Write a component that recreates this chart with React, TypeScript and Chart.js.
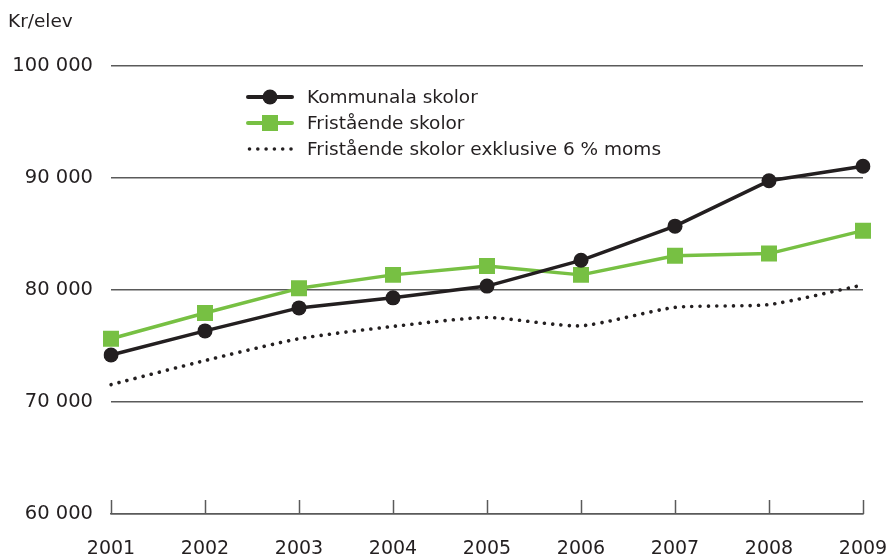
import React, { useEffect, useRef } from "react";
import { Chart, registerables } from "chart.js";

Chart.register(...registerables);

const years = ["2001", "2002", "2003", "2004", "2005", "2006", "2007", "2008", "2009"];
const kommunala = [74200, 76350, 78400, 79300, 80350, 82650, 85700, 89750, 91050];
const fristaende = [75650, 77950, 80150, 81350, 82150, 81350, 83050, 83250, 85300];
const fristaendeExMoms = [71550, 73700, 75650, 76750, 77550, 76800, 78450, 78700, 80450];
const yTicks = [60000, 70000, 80000, 90000, 100000];
const seriesNames = ["Kommunala skolor", "Fristående skolor", "Fristående skolor exklusive 6 % moms"];
const yUnit = "Kr/elev";

const DARK = "#231f20";
const GREEN = "#77c043";
const GRID = "#5a5a5a";
const FONT = "'DejaVu Sans', sans-serif";

const fmt = (v: number) => String(v).replace(/\B(?=(\d{3})+(?!\d))/g, " ");

const decorPlugin = {
  id: "decor",
  beforeDatasetsDraw(chart: any) {
    const ctx = chart.ctx;
    const xs = chart.scales.x;
    const bottom = chart.chartArea.bottom;
    ctx.save();
    ctx.strokeStyle = GRID;
    ctx.lineWidth = 1.5;
    xs.ticks.forEach((_t: any, i: number) => {
      const x = Math.round(xs.getPixelForTick(i)) + 0.5;
      ctx.beginPath();
      ctx.moveTo(x, bottom);
      ctx.lineTo(x, bottom - 14);
      ctx.stroke();
    });
    ctx.restore();
  },
  afterDraw(chart: any) {
    const ctx = chart.ctx;
    ctx.save();
    ctx.fillStyle = DARK;
    ctx.font = `18.5px ${FONT}`;
    ctx.textBaseline = "alphabetic";
    ctx.textAlign = "left";
    ctx.fillText(yUnit, 8, 27);

    // legend
    const rows = [97, 123, 149];
    const x0 = 248, x1 = 292, xm = 270, tx = 307;
    ctx.font = `18.5px ${FONT}`;
    ctx.textBaseline = "middle";
    rows.forEach((y, i) => {
      ctx.save();
      if (i === 0) {
        ctx.strokeStyle = DARK; ctx.lineWidth = 4; ctx.lineCap = "round";
        ctx.beginPath(); ctx.moveTo(x0, y); ctx.lineTo(x1, y); ctx.stroke();
        ctx.fillStyle = DARK;
        ctx.beginPath(); ctx.arc(xm, y, 7.5, 0, Math.PI * 2); ctx.fill();
      } else if (i === 1) {
        ctx.strokeStyle = GREEN; ctx.lineWidth = 4; ctx.lineCap = "round";
        ctx.beginPath(); ctx.moveTo(x0, y); ctx.lineTo(x1, y); ctx.stroke();
        ctx.fillStyle = GREEN;
        ctx.fillRect(xm - 8, y - 8, 16, 16);
      } else {
        ctx.fillStyle = DARK;
        for (let k = 0; k < 6; k++) {
          ctx.beginPath(); ctx.arc(x0 + 1.5 + k * 8.3, y, 1.8, 0, Math.PI * 2); ctx.fill();
        }
      }
      ctx.restore();
      ctx.fillStyle = DARK;
      ctx.fillText(seriesNames[i], tx, y + 1);
    });
    ctx.restore();
  },
};

export default function App() {
  const ref = useRef<HTMLCanvasElement | null>(null);
  useEffect(() => {
    if (!ref.current) return;
    const chart = new Chart(ref.current, {
      type: "line",
      data: {
        labels: years,
        datasets: [
          {
            label: seriesNames[2],
            data: fristaendeExMoms,
            borderColor: DARK,
            borderWidth: 3.6,
            borderDash: [0.01, 8.3],
            borderCapStyle: "round",
            pointRadius: 0,
            tension: 0.2,
            fill: false,
            order: 3,
          },
          {
            label: seriesNames[1],
            data: fristaende,
            borderColor: GREEN,
            backgroundColor: GREEN,
            borderWidth: 3.5,
            pointStyle: "rect",
            pointRadius: 11.3,
            pointBorderWidth: 0,
            tension: 0,
            fill: false,
            order: 2,
          },
          {
            label: seriesNames[0],
            data: kommunala,
            borderColor: DARK,
            backgroundColor: DARK,
            borderWidth: 3.5,
            pointStyle: "circle",
            pointRadius: 7.5,
            pointBorderWidth: 0,
            tension: 0,
            fill: false,
            order: 1,
          },
        ],
      },
      options: {
        responsive: false,
        animation: false,
        layout: { padding: { top: 66, right: 33, left: 0, bottom: 0 } },
        plugins: { legend: { display: false }, tooltip: { enabled: false } },
        elements: { line: { borderJoinStyle: "round" } },
        scales: {
          x: {
            type: "category",
            offset: false,
            grid: { display: false, drawTicks: false },
            border: { display: true, color: GRID, width: 1.5 },
            ticks: {
              color: DARK,
              font: { family: FONT, size: 19 },
              padding: 24,
              maxRotation: 0,
              autoSkip: false,
            },
            afterFit: (s: any) => { s.height = 43; s.paddingLeft = 0; s.paddingRight = 0; },
          },
          y: {
            min: yTicks[0],
            max: yTicks[yTicks.length - 1],
            afterBuildTicks: (s: any) => { s.ticks = yTicks.map((v) => ({ value: v })); },
            grid: { color: GRID, lineWidth: 1.5, drawTicks: false },
            border: { display: false },
            ticks: {
              color: DARK,
              font: { family: FONT, size: 19.5 },
              padding: 18,
              callback: (v: any) => fmt(Number(v)),
            },
            afterFit: (s: any) => { s.width = 111; s.paddingTop = 0; s.paddingBottom = 0; },
          },
        },
      },
      plugins: [decorPlugin],
    } as any);
    return () => chart.destroy();
  }, []);
  return (
    <div style={{ position: "absolute", left: 0, top: 0, width: 896, height: 557, background: "#fff" }}>
      <canvas ref={ref} width={896} height={557} style={{ width: 896, height: 557, display: "block" }} />
    </div>
  );
}
